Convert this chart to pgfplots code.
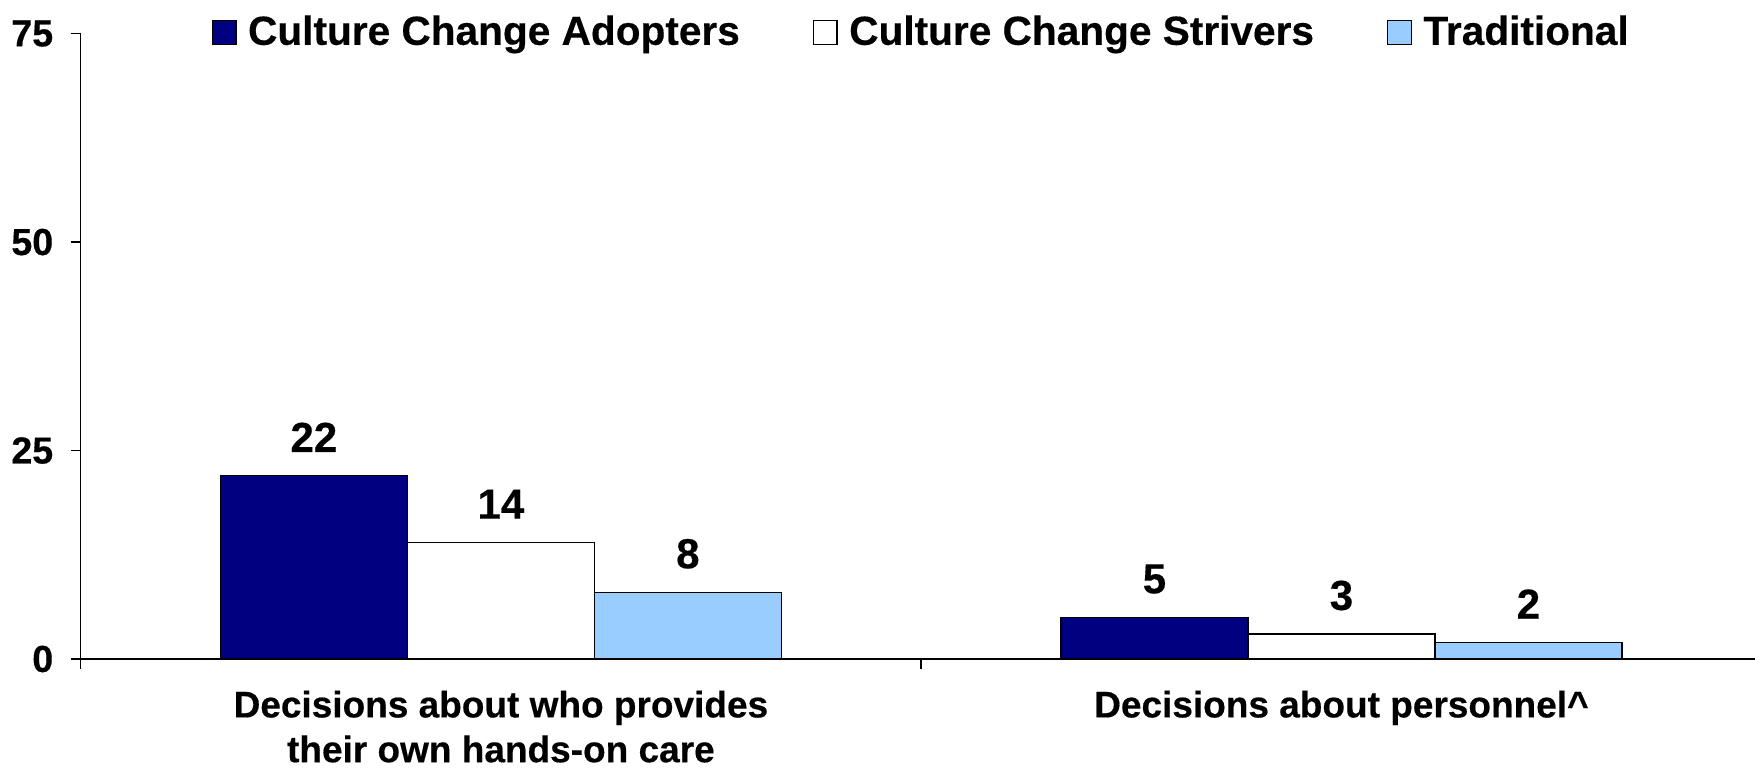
\documentclass[border=0pt]{standalone}
\usepackage{fontspec}
\setmainfont{Liberation Sans}[BoldFeatures={FakeBold=0.4}]
\usepackage{pgfplots}
\pgfplotsset{compat=1.18}
\definecolor{navyc}{RGB}{0,0,128}
\definecolor{lblue}{RGB}{153,204,255}
\begin{document}
\begin{tikzpicture}
\begin{axis}[
  scale only axis, width=837.2pt, height=312.7pt,
  xmin=-0.5, xmax=1.492, ymin=0, ymax=75,
  axis x line*=bottom, axis y line*=left,
  axis line style={-, line width=0.7pt, black},
  ybar=0pt, bar width=93.5pt,
  xtick={0,1},
  xticklabels={{Decisions about who provides\\their own hands-on care},{Decisions about personnel\textasciicircum}},
  major x tick style={draw=none},
  minor xtick={-0.5,0.5},
  tick align=outside, major tick length=5pt, minor tick length=5pt,
  ytick={0,25,50,75},
  tick style={black, line width=0.7pt},
  /pgf/number format/assume math mode=true,
  yticklabel style={font=\fontsize{18.8pt}{20pt}\selectfont\bfseries, inner sep=0pt, xshift=-8.5pt},
  xticklabel style={font=\fontsize{18.5pt}{22.4pt}\selectfont\bfseries, align=center, anchor=north, inner sep=0pt, yshift=-10.6pt},
  nodes near coords,
  every node near coord/.append style={font=\fontsize{21pt}{24pt}\selectfont\bfseries, anchor=south, inner sep=0pt, yshift=11.5pt, black},
  legend columns=3,
  legend style={at={(0.5,1)}, anchor=center, yshift=1pt, xshift=1.2pt, draw=none, fill=none, inner sep=0pt,
    font=\fontsize{20.3pt}{23pt}\selectfont\bfseries,
    nodes={inner sep=0pt, anchor=base},
    column sep=5.8pt,
    /tikz/every even column/.append style={column sep=36.5pt}},
  legend image code/.code={\draw[#1,line width=0.6pt] (0pt,0pt) rectangle (11.8pt,12.2pt);},
  clip=false,
]
\addplot[fill=navyc, draw=black, line width=0.6pt] coordinates {(0,22) (1,5)};
\addplot[fill=white, draw=black, line width=0.6pt] coordinates {(0,14) (1,3)};
\addplot[fill=lblue, draw=black, line width=0.6pt] coordinates {(0,8) (1,2)};
\legend{Culture Change Adopters, Culture Change Strivers, Traditional}
\coordinate (bl) at (rel axis cs:0,0);
\coordinate (tr) at (rel axis cs:1,1);
\end{axis}
\pgfresetboundingbox
\path[use as bounding box] ([xshift=-40.3pt,yshift=-54.5pt]bl) rectangle ([yshift=16.8pt]tr);
\end{tikzpicture}
\end{document}
